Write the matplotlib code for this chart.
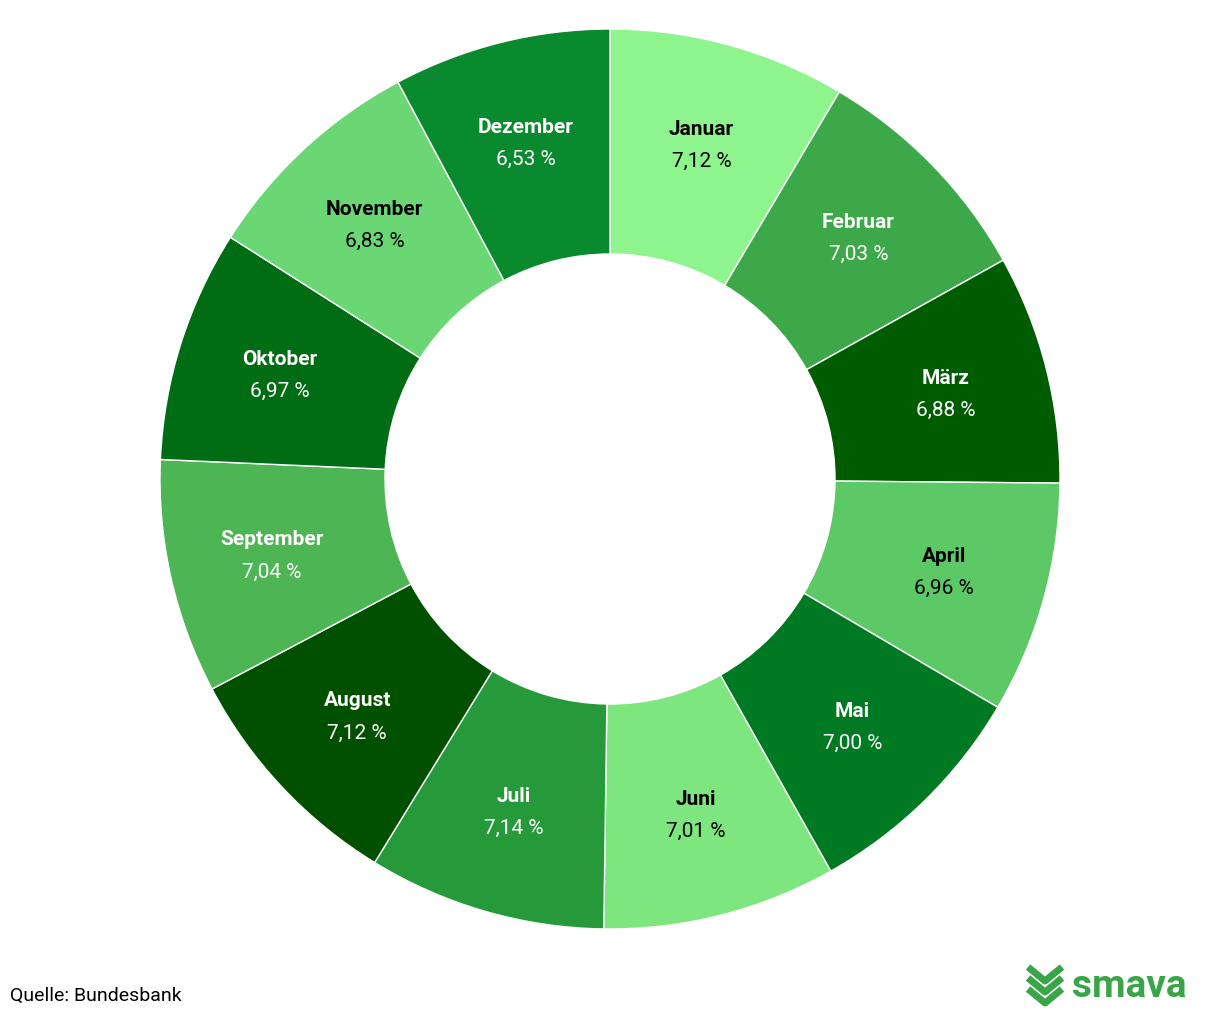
import matplotlib.pyplot as plt
import numpy as np

plt.rcParams['font.family'] = ['Roboto', 'DejaVu Sans']

months = ["Januar", "Februar", "März", "April", "Mai", "Juni", "Juli",
          "August", "September", "Oktober", "November", "Dezember"]
values = [7.12, 7.03, 6.88, 6.96, 7.00, 7.01, 7.14, 7.12, 7.04, 6.97, 6.83, 6.53]
colors = ["#8ef58e", "#3da84a", "#005c00", "#5cc866", "#007a22", "#7de67f",
          "#26993a", "#005000", "#4db553", "#006c14", "#6bd774", "#0a8a2e"]
text_colors = ["black", "white", "white", "black", "white", "black",
               "white", "white", "white", "white", "black", "white"]

fig = plt.figure(figsize=(12.2, 10.2), dpi=100)
ax = fig.add_axes([0, 0, 1, 1])
ax.set_xlim(0, 1220)
ax.set_ylim(0, 1020)
ax.set_aspect('equal')
ax.axis('off')

cx, cy, R = 610, 540, 450
wedges, _ = ax.pie(values, colors=colors, startangle=90, counterclock=False,
                   center=(cx, cy), radius=R, frame=True,
                   wedgeprops=dict(width=R * 0.5, edgecolor='white', linewidth=1))
ax.set_xlim(0, 1220)
ax.set_ylim(0, 1020)
ax.axis('off')

for w, m, v, tc in zip(wedges, months, values, text_colors):
    ang = np.deg2rad((w.theta1 + w.theta2) / 2)
    r = R * 0.77
    x = cx + r * np.cos(ang)
    y = cy + r * np.sin(ang)
    ax.text(x, y + 16, m, ha='center', va='center', color=tc,
            fontsize=15, fontweight='bold')
    ax.text(x, y - 16, f"{v:.2f} %".replace('.', ','), ha='center', va='center',
            color=tc, fontsize=15)

ax.text(10, 24, "Quelle: Bundesbank", ha='left', va='center', fontsize=14)

# smava logo
for k in range(3):
    ax.plot([1028, 1045, 1062], [52 - k * 11, 38 - k * 11, 52 - k * 11],
            color='#3aa548', linewidth=5, solid_capstyle='butt')
ax.text(1072, 33, "smava", ha='left', va='center', fontsize=28,
        fontweight='bold', color='#3aa548')

fig.savefig("out.png", dpi=100)
